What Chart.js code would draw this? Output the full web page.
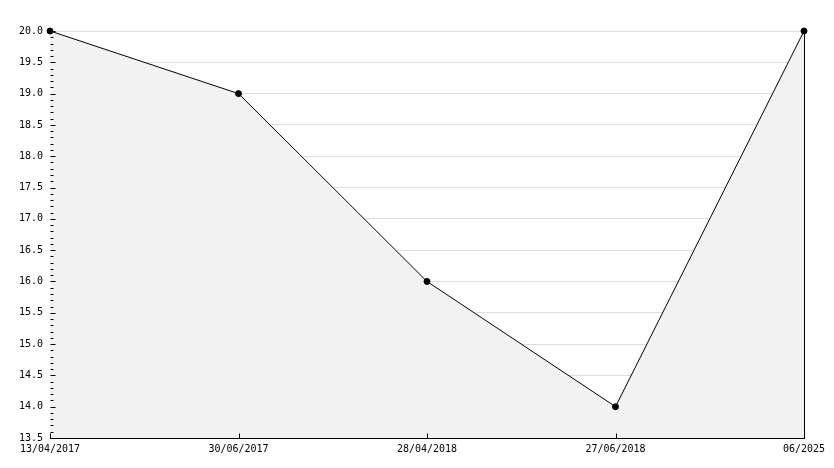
<!DOCTYPE html>
<html>
<head>
<meta charset="utf-8">
<script src="https://cdn.jsdelivr.net/npm/chart.js@4"></script>
<style>
  html, body { margin: 0; padding: 0; background: #ffffff; }
  #c { display: block; }
</style>
</head>
<body>
<canvas id="c" width="834" height="468"></canvas>
<script>
const categories = ['13/04/2017', '30/06/2017', '28/04/2018', '27/06/2018', '06/2025'];
const values = [20.0, 19.0, 16.0, 14.0, 20.0];
const yMin = 13.5;
const yMax = 20.0;
const yMajorStep = 0.5;
const yMinorPerMajor = 5;

const FONT = { family: '"DejaVu Sans Mono", monospace', size: 10 };

const innerTicks = {
  id: 'innerTicks',
  beforeDatasetsDraw(chart) {
    const ctx = chart.ctx;
    const area = chart.chartArea;
    const ys = chart.scales.y;
    const xs = chart.scales.x;
    ctx.save();
    ctx.strokeStyle = '#000';
    ctx.lineWidth = 1;
    ctx.beginPath();
    // right border
    const rx = Math.round(area.right) + 0.5;
    ctx.moveTo(rx, area.top);
    ctx.lineTo(rx, area.bottom + 0.5);
    ctx.stroke();
    ctx.restore();
  },
  afterDatasetsDraw(chart) {
    const ctx = chart.ctx;
    const area = chart.chartArea;
    const ys = chart.scales.y;
    const xs = chart.scales.x;
    ctx.save();
    ctx.strokeStyle = '#000';
    ctx.lineWidth = 1;
    ctx.beginPath();
    const rx = Math.round(area.right) + 0.5;
    ctx.moveTo(rx, area.top);
    ctx.lineTo(rx, area.bottom + 0.5);
    // y ticks (major + minor) pointing inward
    const n = Math.round((yMax - yMin) / yMajorStep * yMinorPerMajor);
    for (let k = 0; k <= n; k++) {
      const v = yMin + k * yMajorStep / yMinorPerMajor;
      const py = Math.round(ys.getPixelForValue(v)) + 0.5;
      const len = (k % yMinorPerMajor === 0) ? 5 : 3;
      const lx = Math.round(area.left) + 0.5;
      ctx.moveTo(lx, py);
      ctx.lineTo(lx + len, py);
    }
    // x ticks pointing inward
    for (let i = 0; i < categories.length; i++) {
      const px = Math.round(xs.getPixelForValue(i)) + 0.5;
      const by = Math.round(area.bottom) + 0.5;
      ctx.moveTo(px, by);
      ctx.lineTo(px, by - 5);
    }
    ctx.stroke();
    ctx.restore();
  }
};

new Chart(document.getElementById('c'), {
  type: 'line',
  data: {
    labels: categories,
    datasets: [{
      data: values,
      borderColor: '#000000',
      borderWidth: 1,
      backgroundColor: '#f2f2f2',
      fill: 'start',
      tension: 0,
      clip: false,
      pointStyle: 'circle',
      pointRadius: 3,
      pointBackgroundColor: '#000000',
      pointBorderColor: '#000000',
      pointBorderWidth: 1
    }]
  },
  options: {
    responsive: false,
    animation: false,
    devicePixelRatio: 1,
    layout: { padding: { top: 31, right: 30, left: 0, bottom: 0 } },
    plugins: {
      legend: { display: false },
      tooltip: { enabled: false }
    },
    scales: {
      x: {
        type: 'category',
        offset: false,
        grid: { display: false, drawTicks: false },
        border: { display: true, color: '#000000', width: 1 },
        ticks: {
          autoSkip: false,
          maxRotation: 0,
          minRotation: 0,
          padding: 5,
          color: '#000000',
          font: FONT
        },
        afterFit(scale) { scale.height = 30; }
      },
      y: {
        min: yMin,
        max: yMax,
        grid: { color: '#dddddd', drawTicks: false, lineWidth: 1 },
        border: { display: true, color: '#000000', width: 1 },
        ticks: {
          stepSize: yMajorStep,
          padding: 7,
          color: '#000000',
          font: FONT,
          callback: (v) => Number(v).toFixed(1)
        },
        afterFit(scale) { scale.width = 50; }
      }
    }
  },
  plugins: [innerTicks]
});
</script>
</body>
</html>
